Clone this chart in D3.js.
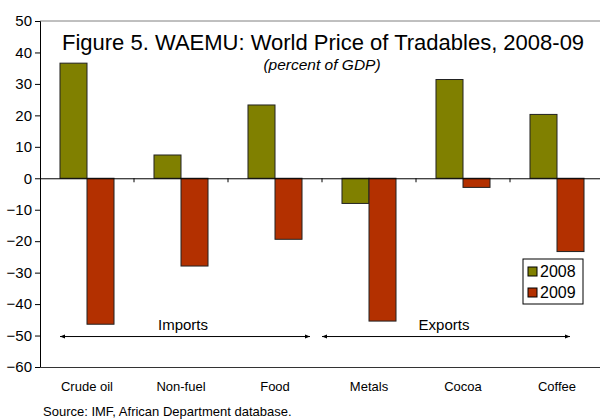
<!DOCTYPE html>
<html>
<head>
<meta charset="utf-8">
<script src="https://cdn.jsdelivr.net/npm/d3@7"></script>
<style>
  body { margin: 0; background: #fff; }
  svg { font-family: "Liberation Sans", Arial, sans-serif; }
</style>
</head>
<body>
<svg id="chart"></svg>
<script>
const categories = ["Crude oil", "Non-fuel", "Food", "Metals", "Cocoa", "Coffee"];
const series = ["2008", "2009"];
const values2008 = [36.6, 7.4, 23.3, -8.0, 31.4, 20.3];
const values2009 = [-46.4, -27.9, -19.4, -45.4, -2.9, -23.3];
const yTicks = [50, 40, 30, 20, 10, 0, -10, -20, -30, -40, -50, -60];
const groups = [
  { label: "Imports", from: 0, to: 3 },
  { label: "Exports", from: 3, to: 6 }
];

const size = { width: 600, height: 419 };
const padding = { top: 21, bottom: 52, left: 40, right: -4 };
const colors = { "2008": "#808000", "2009": "#b33000" };

const svg = d3.select("#chart").attr("width", size.width).attr("height", size.height);

const xScale = d3.scaleBand().domain(categories)
  .range([padding.left, size.width - padding.right]);
const inner = d3.scaleBand().domain(series)
  .range([0, xScale.bandwidth()]).paddingOuter(0.74).paddingInner(0);
const yScale = d3.scaleLinear().domain([-60, 50])
  .range([size.height - padding.bottom, padding.top]);

// frame top line
svg.append("line")
  .attr("x1", padding.left).attr("x2", size.width)
  .attr("y1", yScale(50)).attr("y2", yScale(50))
  .attr("stroke", "#808080").attr("stroke-width", 1);

// bars
const data = [];
categories.forEach((c, i) => {
  data.push({ cat: c, s: "2008", v: values2008[i] });
  data.push({ cat: c, s: "2009", v: values2009[i] });
});
svg.selectAll("rect.bar").data(data).enter().append("rect")
  .attr("class", "bar")
  .attr("x", d => xScale(d.cat) + inner(d.s))
  .attr("width", inner.bandwidth())
  .attr("y", d => yScale(Math.max(0, d.v)))
  .attr("height", d => Math.abs(yScale(d.v) - yScale(0)))
  .attr("fill", d => colors[d.s])
  .attr("stroke", "#222").attr("stroke-width", 1);

// y axis
const yAxis = d3.axisLeft(yScale).tickValues(yTicks).tickSize(5).tickPadding(3).tickFormat(d3.format("d"));
const gy = svg.append("g").attr("transform", `translate(${padding.left},0)`).call(yAxis);
gy.select(".domain").attr("stroke", "#000");
gy.selectAll("text").attr("font-size", 15).attr("fill", "#000").attr("font-family", "Liberation Sans, Arial, sans-serif");

// zero line with category ticks
const gz = svg.append("g").attr("transform", `translate(0,${yScale(0)})`)
  .call(d3.axisBottom(xScale).tickSize(0).tickFormat(""));
gz.select(".domain").attr("stroke", "#000");
svg.selectAll("line.ctick").data(d3.range(1, categories.length)).enter().append("line")
  .attr("class", "ctick")
  .attr("x1", i => xScale(categories[i])).attr("x2", i => xScale(categories[i]))
  .attr("y1", yScale(0)).attr("y2", yScale(0) + 4)
  .attr("stroke", "#000");

// bottom axis line and labels
const gx = svg.append("g").attr("transform", `translate(0,${yScale(-60)})`)
  .call(d3.axisBottom(xScale).tickSize(0).tickPadding(15));
gx.select(".domain").attr("stroke", "#333");
gx.selectAll("text").attr("font-size", 13).attr("fill", "#000").attr("font-family", "Liberation Sans, Arial, sans-serif");

// group arrows
const defs = svg.append("defs");
defs.append("marker").attr("id", "arrow").attr("viewBox", "0 0 10 10")
  .attr("refX", 10).attr("refY", 5).attr("markerWidth", 7).attr("markerHeight", 5)
  .attr("orient", "auto-start-reverse")
  .append("path").attr("d", "M0,1 L10,5 L0,9 z").attr("fill", "#000");

const arrowY = yScale(-50) + 1;
groups.forEach((g, gi) => {
  const x1 = xScale(categories[g.from]) + (gi === 0 ? 20 : 0);
  const x2 = xScale(categories[g.to - 1]) + xScale.bandwidth() - (gi === 0 ? 12 : 34);
  svg.append("line")
    .attr("x1", x1).attr("x2", x2).attr("y1", arrowY).attr("y2", arrowY)
    .attr("stroke", "#000").attr("stroke-width", 1)
    .attr("marker-start", "url(#arrow)").attr("marker-end", "url(#arrow)");
  svg.append("text")
    .attr("x", (x1 + x2) / 2 + (gi === 0 ? -2 : -2)).attr("y", arrowY - 7)
    .attr("text-anchor", "middle").attr("font-size", 15).attr("fill", "#000")
    .text(g.label);
});

// title
svg.append("text").attr("x", 62).attr("y", 50)
  .attr("font-size", 22).attr("fill", "#000")
  .text("Figure 5. WAEMU: World Price of Tradables, 2008-09");
svg.append("text").attr("x", 322).attr("y", 70)
  .attr("text-anchor", "middle").attr("font-size", 15.5).attr("font-style", "italic").attr("fill", "#000")
  .text("(percent of GDP)");

// legend
const legend = svg.append("g").attr("transform", "translate(523,259)");
legend.append("rect").attr("width", 60).attr("height", 45)
  .attr("fill", "#fff").attr("stroke", "#000").attr("stroke-width", 1);
series.forEach((s, i) => {
  legend.append("rect").attr("x", 5).attr("y", 8 + i * 21).attr("width", 9).attr("height", 9)
    .attr("fill", colors[s]).attr("stroke", "#000").attr("stroke-width", 1);
  legend.append("text").attr("x", 17).attr("y", 18 + i * 21)
    .attr("font-size", 16).attr("fill", "#000").text(s);
});

// source
svg.append("text").attr("x", 43).attr("y", 416)
  .attr("font-size", 13).attr("fill", "#000")
  .text("Source: IMF, African Department database.");
</script>
</body>
</html>
